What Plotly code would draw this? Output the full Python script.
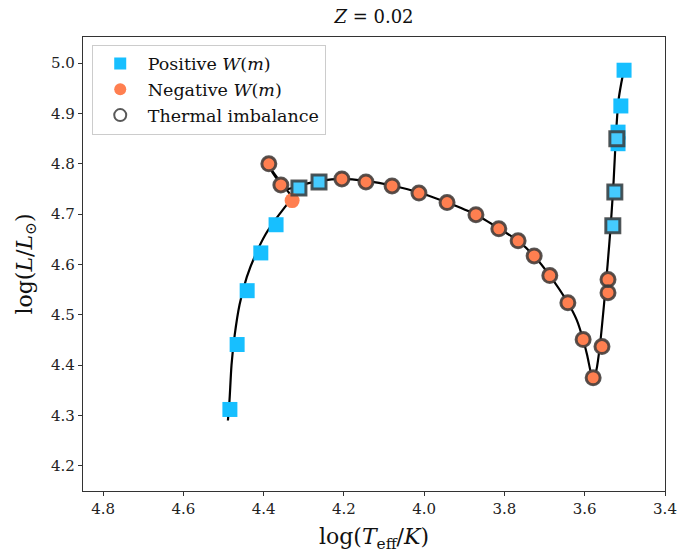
import plotly.graph_objects as go

# Evolutionary track (log Teff, log L)
track_x = [4.489, 4.485, 4.480, 4.472, 4.460, 4.442, 4.420, 4.395, 4.368, 4.346, 4.334, 4.331,
           4.342, 4.362, 4.380, 4.387, 4.378, 4.358, 4.342, 4.31, 4.26, 4.205, 4.145, 4.08,
           4.013, 3.943, 3.871, 3.814, 3.766, 3.726, 3.687, 3.642, 3.620, 3.604, 3.594,
           3.585, 3.579, 3.571, 3.562, 3.552, 3.543, 3.535, 3.528, 3.522, 3.516, 3.509, 3.502]
track_y = [4.290, 4.330, 4.400, 4.460, 4.520, 4.575, 4.620, 4.660, 4.692, 4.715, 4.728, 4.735,
           4.748, 4.768, 4.788, 4.800, 4.783, 4.762, 4.750, 4.757, 4.766, 4.770, 4.766, 4.757,
           4.743, 4.723, 4.699, 4.672, 4.647, 4.617, 4.578, 4.524, 4.490, 4.451, 4.420,
           4.386, 4.370, 4.390, 4.440, 4.520, 4.600, 4.680, 4.766, 4.860, 4.925, 4.960, 4.988]

# Positive W(m)
pos_x = [4.484, 4.466, 4.441, 4.407, 4.369, 4.312, 4.262, 3.525, 3.530, 3.517, 3.517, 3.520, 3.510, 3.502]
pos_y = [4.312, 4.441, 4.548, 4.623, 4.679, 4.752, 4.764, 4.744, 4.677, 4.863, 4.840, 4.850, 4.915, 4.986]

# Negative W(m)
neg_x = [4.329, 4.387, 4.357, 4.205, 4.145, 4.080, 4.013, 3.943, 3.871, 3.814, 3.766, 3.726,
         3.687, 3.642, 3.604, 3.579, 3.557, 3.542, 3.542]
neg_y = [4.727, 4.800, 4.758, 4.770, 4.764, 4.756, 4.742, 4.723, 4.699, 4.671, 4.647, 4.617,
         4.578, 4.524, 4.451, 4.375, 4.437, 4.544, 4.570]

# Thermal imbalance (circles on negative points, squares on positive points)
ti_circ_x = neg_x[1:]
ti_circ_y = neg_y[1:]
ti_sq_x = [4.312, 4.262, 3.525, 3.530, 3.520]
ti_sq_y = [4.752, 4.764, 4.744, 4.677, 4.850]

FONT = "DejaVu Serif"
edge = "rgba(60,60,60,0.85)"

fig = go.Figure()
fig.add_trace(go.Scatter(x=track_x, y=track_y, mode="lines", line=dict(color="black", width=2.2, shape="spline", smoothing=0.6),
                         showlegend=False, hoverinfo="skip"))
fig.add_trace(go.Scatter(x=pos_x, y=pos_y, mode="markers", name="Positive <i>W</i>(<i>m</i>)",
                         marker=dict(symbol="square", size=15, color="#17BFFF", line=dict(width=0))))
fig.add_trace(go.Scatter(x=neg_x, y=neg_y, mode="markers", name="Negative <i>W</i>(<i>m</i>)",
                         marker=dict(symbol="circle", size=15, color="#FF7F50", line=dict(width=0))))
fig.add_trace(go.Scatter(x=ti_circ_x, y=ti_circ_y, mode="markers", name="Thermal imbalance",
                         marker=dict(symbol="circle", size=14, color="rgba(0,0,0,0)", line=dict(width=3, color=edge))))
fig.add_trace(go.Scatter(x=ti_sq_x, y=ti_sq_y, mode="markers", showlegend=False,
                         marker=dict(symbol="square", size=14, color="rgba(255,255,255,0.2)", line=dict(width=3, color=edge))))

axis_common = dict(showline=True, linecolor="#333333", linewidth=1.2, mirror=True, ticks="outside",
                   ticklen=4, tickcolor="#333333", showgrid=False, zeroline=False, automargin=False,
                   tickfont=dict(family=FONT, size=15, color="#222"))

fig.update_layout(
    width=698, height=553,
    margin=dict(l=83, r=33, t=37, b=62),
    plot_bgcolor="white", paper_bgcolor="white",
    font=dict(family=FONT, color="#111"),
    title=dict(text="<i>Z</i> = 0.02", x=(83 + 291) / 698, xanchor="center", y=1 - 17 / 553, yanchor="middle",
               font=dict(family=FONT, size=18, color="#111")),
    xaxis=dict(range=[4.85, 3.4], tickvals=[4.8, 4.6, 4.4, 4.2, 4.0, 3.8, 3.6, 3.4],
               ticktext=["4.8", "4.6", "4.4", "4.2", "4.0", "3.8", "3.6", "3.4"],
               title=dict(text="log(<i>T</i><sub>eff</sub>/<i>K</i>)", font=dict(family=FONT, size=22), standoff=12),
               **axis_common),
    yaxis=dict(range=[4.15, 5.052], tickvals=[4.2, 4.3, 4.4, 4.5, 4.6, 4.7, 4.8, 4.9, 5.0],
               ticktext=["4.2", "4.3", "4.4", "4.5", "4.6", "4.7", "4.8", "4.9", "5.0"],
               title=dict(text="log(<i>L</i>/<i>L</i><sub>⊙</sub>)", font=dict(family=FONT, size=22), standoff=12),
               **axis_common),
    legend=dict(x=0.015, y=0.983, xanchor="left", yanchor="top", bgcolor="rgba(255,255,255,0.8)",
                bordercolor="#cccccc", borderwidth=1, font=dict(family=FONT, size=17.5, color="#111"),
                tracegroupgap=0, itemsizing="constant", itemwidth=45),
)

fig.write_html("out.html")
